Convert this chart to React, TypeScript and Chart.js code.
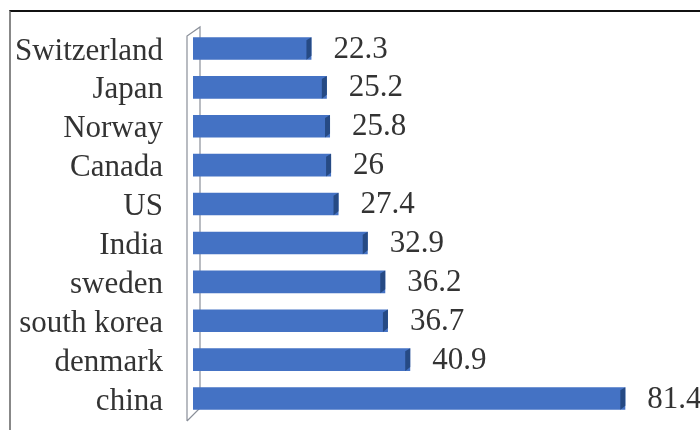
import React, { useEffect, useRef } from "react";
import { Chart, registerables } from "chart.js";

Chart.register(...registerables);

const categories = ["Switzerland", "Japan", "Norway", "Canada", "US", "India", "sweden", "south korea", "denmark", "china"];
const values = [22.3, 25.2, 25.8, 26, 27.4, 32.9, 36.2, 36.7, 40.9, 81.4];
const valueLabels = ["22.3", "25.2", "25.8", "26", "27.4", "32.9", "36.2", "36.7", "40.9", "81.4"];

const FONT = "'Liberation Serif', 'Times New Roman', serif";

const decorPlugin = {
  id: "decor",
  beforeDatasetsDraw(chart: any) {
    const { ctx, chartArea } = chart;
    const x0 = chartArea.left - 6;
    const top = chartArea.top + 7;
    const bottom = chartArea.bottom + 3;
    ctx.save();
    ctx.strokeStyle = "#8a8f99";
    ctx.lineWidth = 1.2;
    ctx.beginPath();
    ctx.moveTo(x0, bottom);
    ctx.lineTo(x0, top);
    ctx.lineTo(x0 + 13, top - 9);
    ctx.lineTo(x0 + 13, bottom - 13);
    ctx.lineTo(x0, bottom);
    ctx.stroke();
    ctx.restore();
  },
  afterDatasetsDraw(chart: any) {
    const { ctx } = chart;
    const meta = chart.getDatasetMeta(0);
    ctx.save();
    meta.data.forEach((bar: any, i: number) => {
      const h = bar.height;
      const topY = bar.y - h / 2;
      const botY = bar.y + h / 2;
      ctx.fillStyle = "#264a84";
      ctx.beginPath();
      ctx.moveTo(bar.x - 5, topY + 3);
      ctx.lineTo(bar.x, topY);
      ctx.lineTo(bar.x, botY - 4);
      ctx.lineTo(bar.x - 5, botY);
      ctx.closePath();
      ctx.fill();
      ctx.fillStyle = "#333333";
      ctx.font = "31px " + FONT;
      ctx.textAlign = "left";
      ctx.textBaseline = "middle";
      ctx.fillText(valueLabels[i], bar.x + 22, bar.y + 1);
    });
    ctx.restore();
  },
};

export default function App() {
  const ref = useRef<HTMLCanvasElement>(null);
  useEffect(() => {
    document.body.style.margin = "0";
    const canvas = ref.current!;
    const chart = new Chart(canvas, {
      type: "bar",
      data: {
        labels: categories,
        datasets: [
          {
            data: values,
            backgroundColor: (c: any) => {
              const el = c.element;
              if (!el || el.height === undefined || isNaN(el.y)) return "#4472C4";
              const g = c.chart.ctx.createLinearGradient(0, el.y - el.height / 2, 0, el.y + el.height / 2);
              g.addColorStop(0, "#2c5594");
              g.addColorStop(0.2, "#4777c4");
              g.addColorStop(0.6, "#4373c0");
              g.addColorStop(1, "#2b5493");
              return g;
            },
            borderWidth: 0,
            barPercentage: 0.58,
            categoryPercentage: 1,
          },
        ],
      },
      options: {
        indexAxis: "y",
        animation: false,
        responsive: false,
        maintainAspectRatio: false,
        layout: { padding: { top: 29, bottom: 12, left: 0, right: 29 } },
        plugins: { legend: { display: false }, tooltip: { enabled: false } },
        scales: {
          x: { display: false, min: 0, max: 90 },
          y: {
            grid: { display: false, drawTicks: false },
            border: { display: false },
            ticks: {
              autoSkip: false,
              padding: 30,
              labelOffset: 3,
              color: "#333333",
              font: { family: FONT, size: 31 },
            },
            afterFit(scale: any) {
              scale.width = 193;
              scale.paddingTop = 0;
              scale.paddingBottom = 0;
            },
          },
        },
      },
      plugins: [decorPlugin],
    } as any);
    return () => chart.destroy();
  }, []);
  return (
    <div style={{ position: "relative", width: 700, height: 430, background: "#fff" }}>
      <canvas ref={ref} width={700} height={430} style={{ position: "absolute", left: 0, top: 0 }} />
      <div
        style={{
          position: "absolute",
          left: 9,
          top: 10,
          width: 691,
          height: 420,
          borderTop: "2px solid #111",
          borderLeft: "2px solid #888",
          boxSizing: "border-box",
          pointerEvents: "none",
        }}
      />
    </div>
  );
}
